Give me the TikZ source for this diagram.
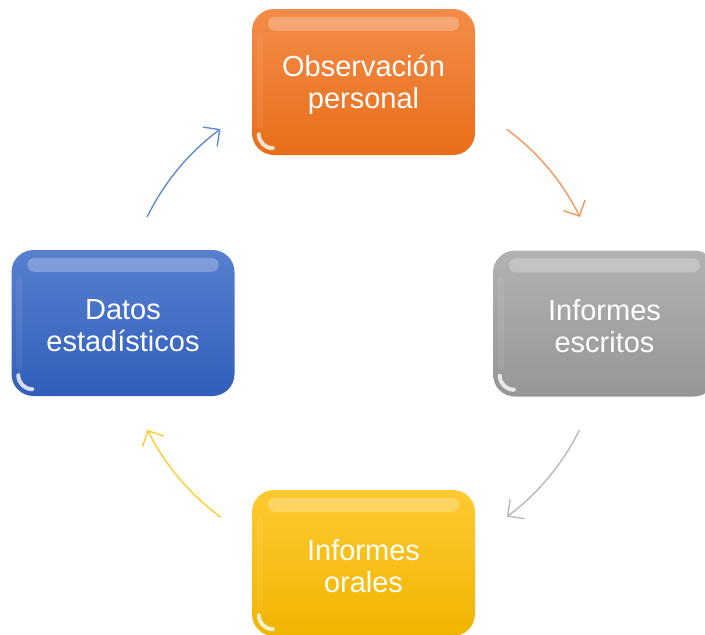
\documentclass[tikz,border=0pt]{standalone}
\usepackage{fontspec}
\setmainfont{Liberation Sans}
\usetikzlibrary{arrows.meta,calc}
\definecolor{orT}{RGB}{243,140,72}
\definecolor{orB}{RGB}{232,110,25}
\definecolor{grT}{RGB}{178,178,178}
\definecolor{grB}{RGB}{150,150,150}
\definecolor{yeT}{RGB}{255,202,50}
\definecolor{yeB}{RGB}{240,180,0}
\definecolor{blT}{RGB}{88,128,208}
\definecolor{blB}{RGB}{48,94,186}
\definecolor{orA}{RGB}{245,150,90}
\definecolor{grA}{RGB}{185,185,185}
\definecolor{yeA}{RGB}{255,205,50}
\definecolor{blA}{RGB}{95,140,215}
\tikzset{
  box/.style={minimum width=223pt, minimum height=146pt, rounded corners=22pt,
    text=white, align=center, inner sep=0pt,
    font=\fontsize{29}{32}\selectfont},
  arr/.style={line width=1.4pt, -{Straight Barb[length=12pt,width=24pt,line width=1.4pt]}},
  gloss/.style={white, opacity=0.25},
  glint/.style={white, line width=4pt, opacity=0.8, line cap=round}
}
\newcommand{\glossy}[1]{%
  \fill[gloss, rounded corners=7pt] ($(#1.north west)+(16,8)$) rectangle ($(#1.north east)+(-16,22)$);
  \fill[white, opacity=0.07, rounded corners=4pt] ($(#1.north west)+(5,26)$) rectangle ($(#1.south west)+(11,-26)$);
  \draw[glint] ($(#1.south west)+(7,-21)$) arc[start angle=180, end angle=90, radius=14];
}
\begin{document}
\begin{tikzpicture}[x=1pt,y=-1pt]
\useasboundingbox (0,0) rectangle (705,635);
\coordinate (ctr) at (363.5,323);
\node[box, top color=orT, bottom color=orB] (obs) at (363.5,82) {};
\node[box, top color=grT, bottom color=grB] (esc) at (604.5,323.5) {};
\node[box, top color=yeT, bottom color=yeB] (ora) at (363.5,563) {};
\node[box, top color=blT, bottom color=blB] (dat) at (123,323) {};
\glossy{obs}
\glossy{esc}
\glossy{ora}
\glossy{dat}
\node[box] (obst) at ($(obs.center)+(0,3)$) {Observación\\personal};
\node[box] (esct) at ($(esc.center)+(0,3)$) {Informes\\escritos};
\node[box] (orat) at ($(ora.center)+(0,3)$) {Informes\\orales};
\node[box] (datt) at ($(dat.center)+(0,3)$) {Datos\\estadísticos};
\draw[arr, orA] ([shift={(-53.5:241)}]ctr) arc[start angle=-53.5, end angle=-26.1, radius=241];
\draw[arr, grA] ([shift={(26.4:241)}]ctr) arc[start angle=26.4, end angle=53.5, radius=241];
\draw[arr, yeA] ([shift={(126.3:241)}]ctr) arc[start angle=126.3, end angle=153.7, radius=241];
\draw[arr, blA] ([shift={(206.1:241)}]ctr) arc[start angle=206.1, end angle=233.6, radius=241];
\end{tikzpicture}
\end{document}
